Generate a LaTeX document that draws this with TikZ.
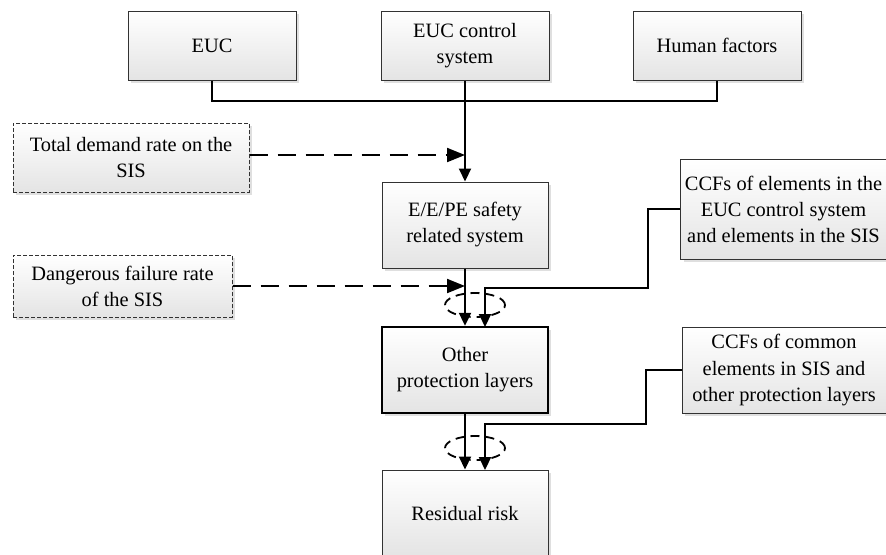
\documentclass[tikz,border=0pt]{standalone}
\usepackage{fontspec}
\setmainfont{Liberation Serif}
\usetikzlibrary{arrows.meta,shadows}
\definecolor{boxline}{RGB}{50,50,50}
\definecolor{boxfill}{RGB}{228,228,228}

\begin{document}
\begin{tikzpicture}[x=0.5pt,y=-0.5pt,
  font=\fontsize{10.2}{13}\selectfont,
  box/.style={draw=boxline, line width=0.5pt, top color=white, bottom color=boxfill,
    drop shadow={shadow xshift=1.5pt,shadow yshift=-1.5pt,opacity=0.25},
    align=center, inner sep=2pt},
  topbox/.style={box, minimum width=84pt, minimum height=34.5pt},
  midbox/.style={box, minimum width=83pt, minimum height=43pt},
  ratebox/.style={box, dash pattern=on 2pt off 1pt},
  ccfbox/.style={box, minimum width=102pt},
  link/.style={line width=1pt},
  flow/.style={link, -{Triangle[length=6.5pt,width=6pt]}},
  rate/.style={link, dash pattern=on 9pt off 5pt, -{Triangle[length=9pt,width=7pt]}},
  merge/.style={dash pattern=on 4.5pt off 3pt, line width=0.9pt}]
\useasboundingbox (0,0) rectangle (886,554);

% Sources
\node[topbox] (euc) at (212,45.5) {EUC};
\node[topbox] (eucctrl) at (465,45.5) {EUC control\\system};
\node[topbox] (human) at (717,45.5) {Human factors};

% Main chain
\node[midbox] (sis) at (465,225) {E/E/PE safety\\related system};
\node[midbox, line width=1.2pt, draw=black] (opl) at (465,370) {Other\\protection layers};
\node[midbox] (risk) at (465,513) {Residual risk};

% Rates and CCFs
\node[ratebox, minimum width=118pt, minimum height=34.5pt] (demand) at (131,157.5) {Total demand rate on the\\SIS};
\node[ratebox, minimum width=109.5pt, minimum height=31pt] (dfail) at (122.5,286) {Dangerous failure rate\\of the SIS};
\node[ccfbox, minimum height=50pt] (ccfa) at (783.5,209) {CCFs of elements in the\\EUC control system\\and elements in the SIS};
\node[ccfbox, minimum height=43pt] (ccfb) at (784,370) {CCFs of common\\elements in SIS and\\other protection layers};

\coordinate (bus) at (465,101);
\coordinate (sisin) at (465,155);
\coordinate (oplin) at (465,286);
\coordinate (bendA) at (648,288);
\coordinate (bendB) at (646,424);

% Connectors
\draw[link] (euc.south) |- (bus) -| (human.south);
\draw[flow] (eucctrl.south) -- (sis.north);
\draw[rate] (demand.east |- sisin) -- (sisin);
\draw[rate] (dfail.east |- oplin) -- (oplin);
\draw[flow] (sis.south) -- (opl.north);
\draw[flow] (ccfa.west) -| (bendA) -- (485,288) -- (485,327);
\draw[flow] (opl.south) -- (risk.north);
\draw[flow] (ccfb.west) -| (bendB) -- (485,424) -- (485,470);

% Common cause loops
\draw[merge] (475,305) ellipse (15pt and 6pt);
\draw[merge] (475,448) ellipse (15pt and 6pt);
\end{tikzpicture}
\end{document}
